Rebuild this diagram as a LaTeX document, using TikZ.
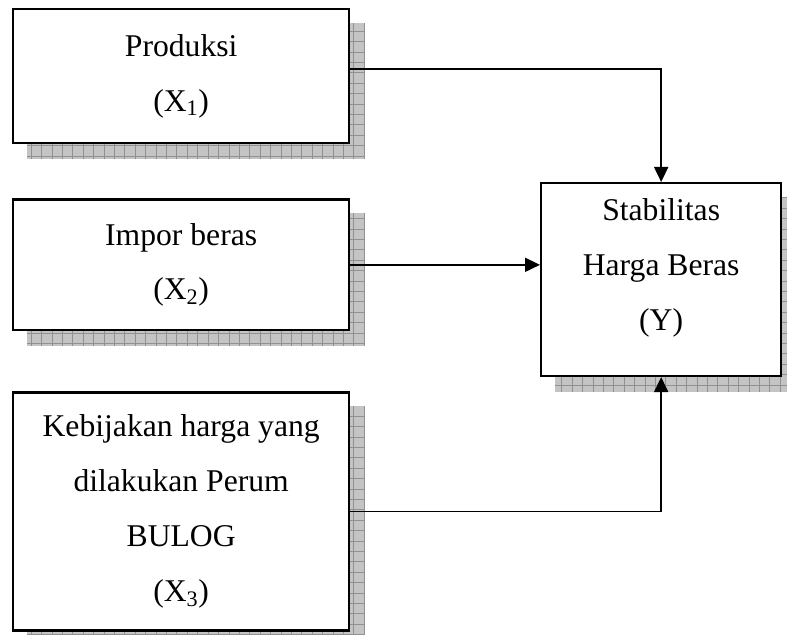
\documentclass[tikz,border=0pt]{standalone}
\usepackage{fontspec}
\setmainfont{Liberation Serif}
\usetikzlibrary{arrows.meta,positioning,backgrounds}
\definecolor{shadowgray}{RGB}{196,196,196}
\definecolor{gridgray}{RGB}{145,145,145}

\begin{document}
\begin{tikzpicture}[
    x=0.025cm,y=-0.025cm,
    varbox/.style={draw=black,line width=1.6pt,fill=white,align=center,minimum width=8.4cm},
    ybox/.style={draw=black,line width=1.6pt,fill=white,align=center,minimum width=6.0cm,minimum height=4.82cm,text depth=0.74cm},
    conn/.style={line width=1.3pt,-{Triangle[length=0.375cm,width=0.35cm]}},
    every node/.style={font=\fontsize{22.5}{39}\selectfont}
  ]
    \useasboundingbox (0,0) rectangle (787,635);

    \node[varbox,minimum height=3.35cm,anchor=north west] (x1) at (12,8) {Produksi\\(X\textsubscript{1})};
    \node[varbox,minimum height=3.27cm,below=1.35cm of x1] (x2) {Impor beras\\(X\textsubscript{2})};
    \node[varbox,minimum height=5.95cm,below=1.5cm of x2] (x3) {Kebijakan harga yang\\dilakukan Perum\\BULOG\\(X\textsubscript{3})};
    \node[ybox,anchor=north west] (y) at (540,182) {Stabilitas\\Harga Beras\\(Y)};

    \begin{scope}[on background layer]
      \foreach \b in {x1,x2,x3,y}{
        \fill[shadowgray] ([shift={(15,15)}]\b.south west) rectangle ([shift={(15,15)}]\b.north east);
        \draw[gridgray,step=0.26cm,line width=0.5pt] ([shift={(15,15)}]\b.south west) grid ([shift={(15,15)}]\b.north east);
      }
    \end{scope}

    \draw[conn] ([yshift=0.18cm]x1.east) -| (y.north);
    \draw[conn] (x2.east) -- (x2.east -| y.west);
    \draw[conn] (x3.east) -| (y.south);
\end{tikzpicture}
\end{document}
